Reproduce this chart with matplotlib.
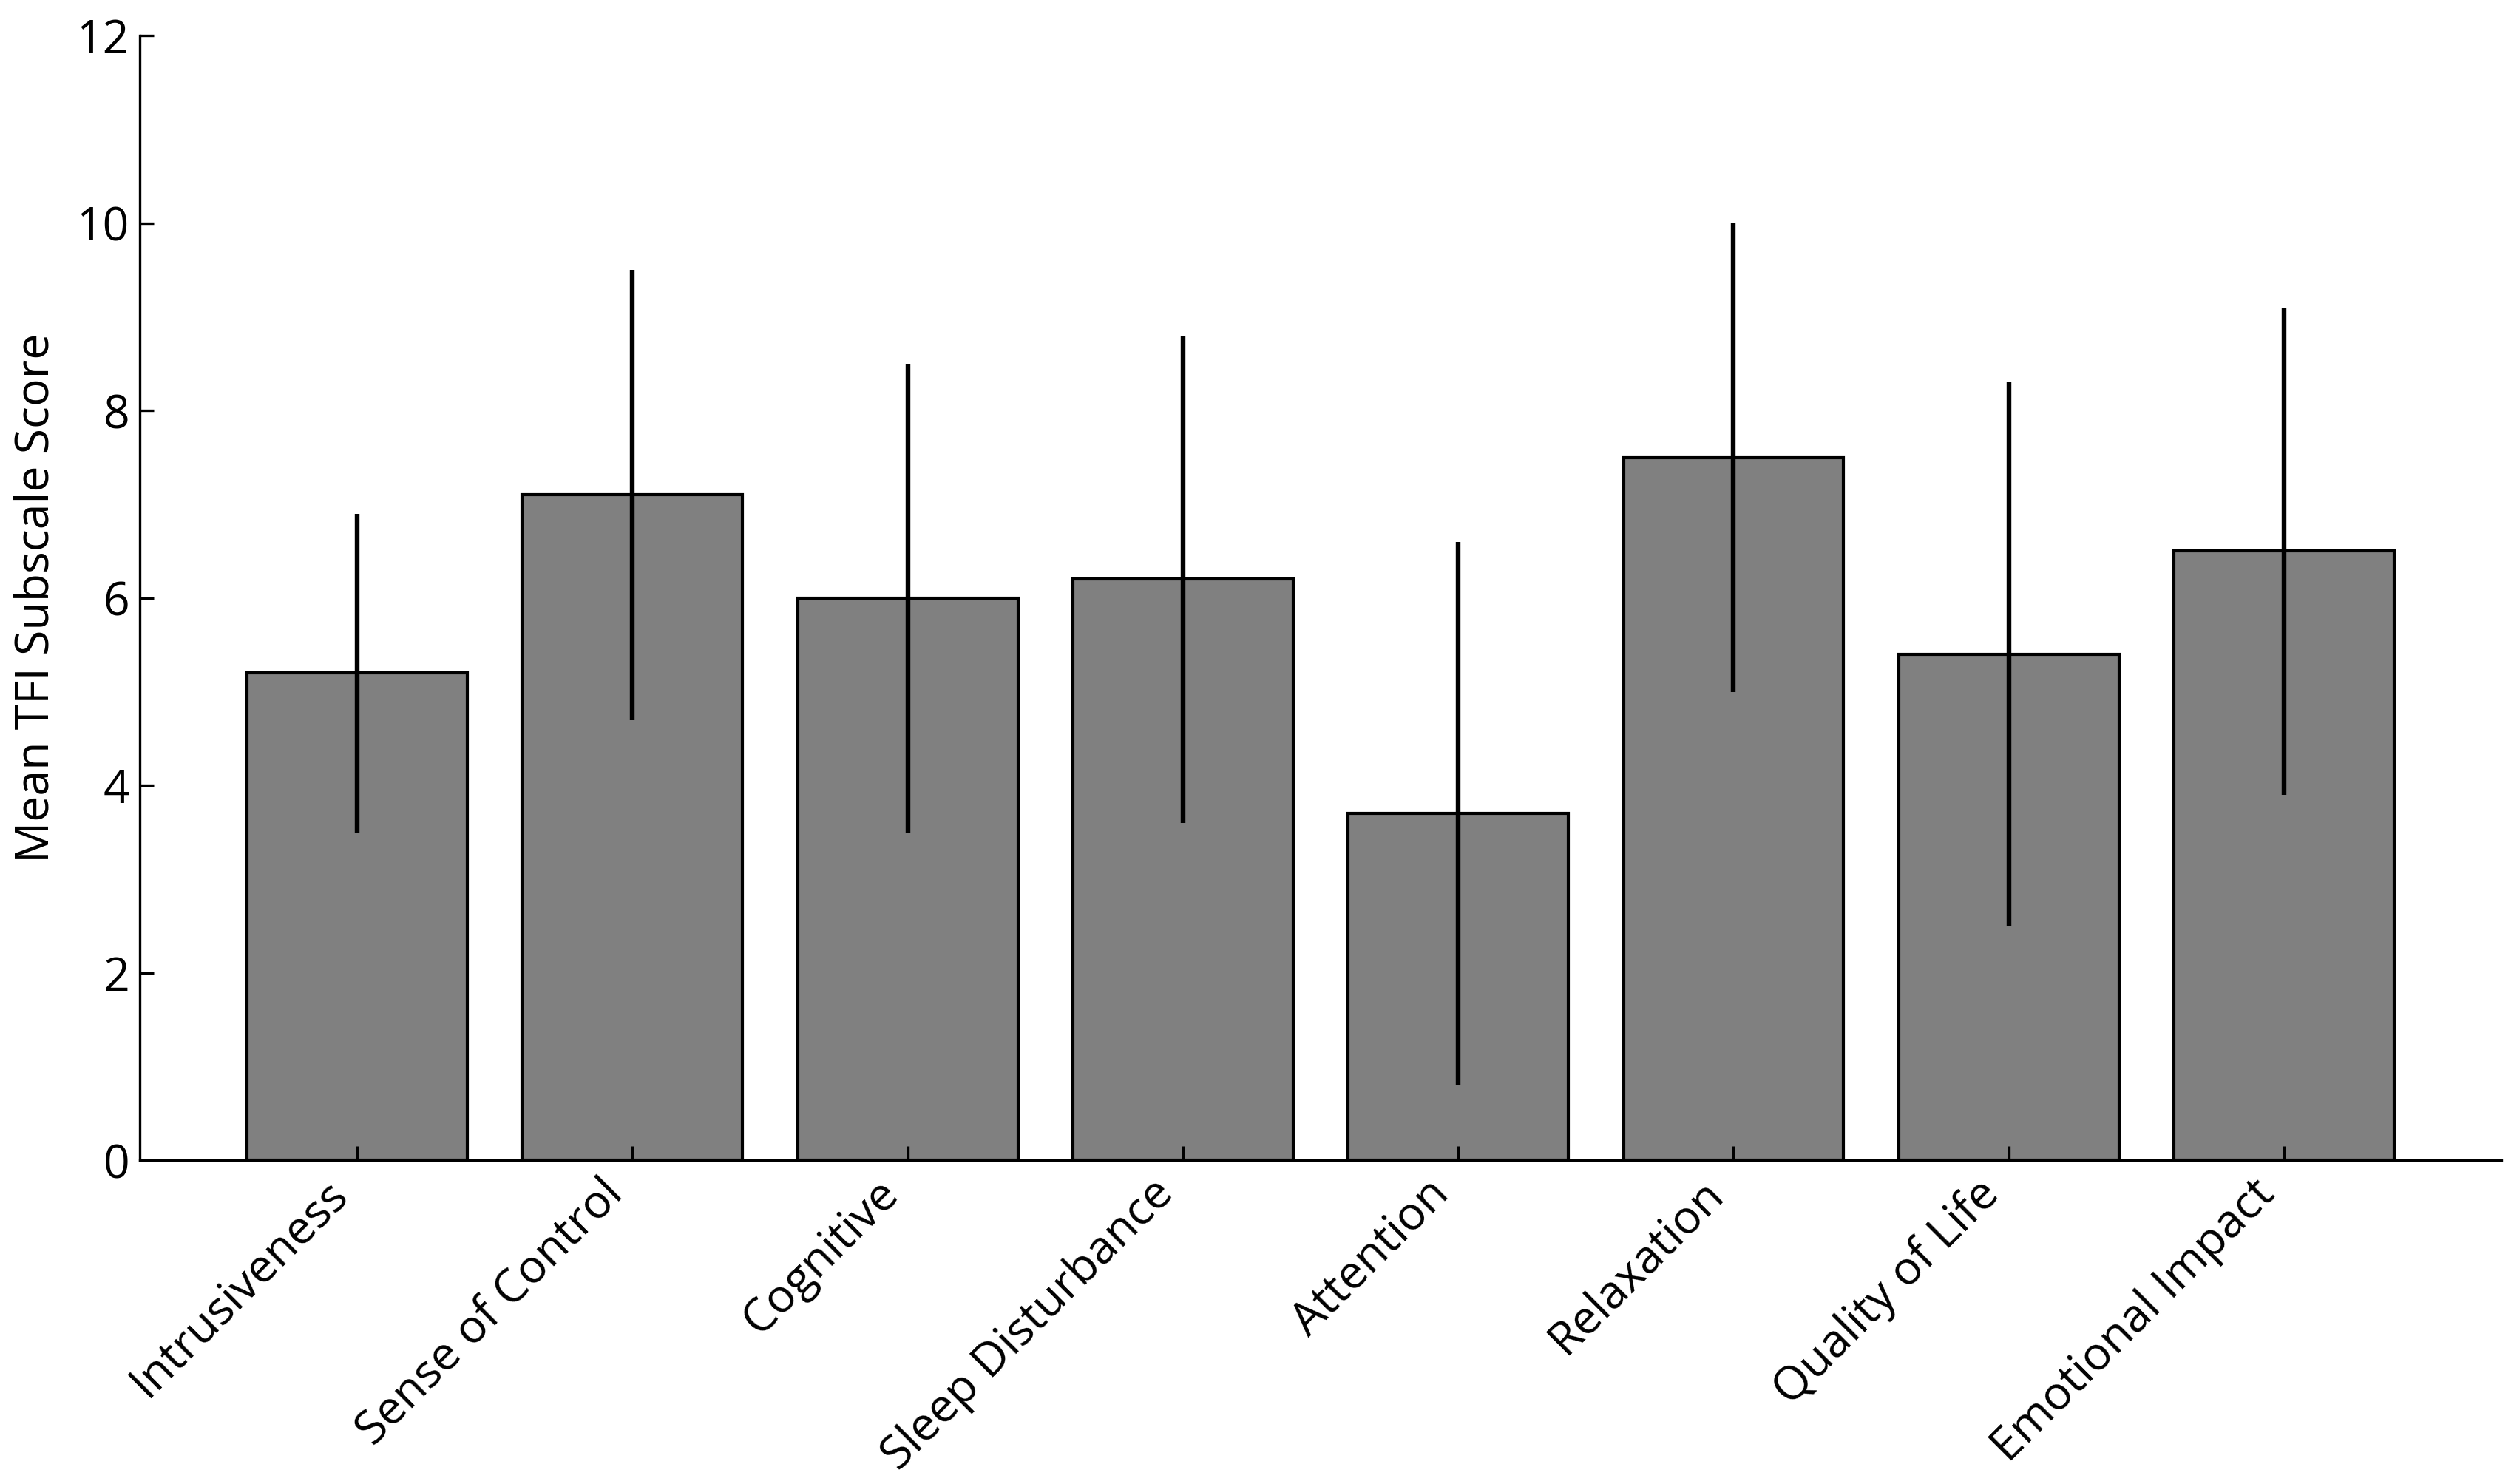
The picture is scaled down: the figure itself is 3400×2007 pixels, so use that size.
import numpy as np
import matplotlib.pyplot as plt

# TFI subscale means and error bar half-widths
subscales = ["Intrusiveness", "Sense of Control", "Cognitive", "Sleep Disturbance",
             "Attention", "Relaxation", "Quality of Life", "Emotional Impact"]
means = [5.2, 7.1, 6.0, 6.2, 3.7, 7.5, 5.4, 6.5]
errors = [1.7, 2.4, 2.5, 2.6, 2.9, 2.5, 2.9, 2.6]

plt.rcParams['font.family'] = ['Open Sans', 'DejaVu Sans']

fig, ax = plt.subplots(figsize=(17, 10.035), dpi=200)
x = np.arange(len(subscales))
ax.bar(x, means, width=0.8, color="gray", edgecolor="black", linewidth=1.5,
       yerr=errors, error_kw=dict(elinewidth=2.3, ecolor="black", capsize=0))

ax.set_ylim(0, 12)
ax.set_xticks(x)
ax.set_xticklabels(subscales, rotation=45, ha="right", fontsize=22.5)
ax.tick_params(axis="both", direction="in", length=7, width=1.2, labelsize=22.5, pad=5)
ax.set_ylabel("Mean TFI Subscale Score", fontsize=22.5, labelpad=8)
for side in ["top", "right"]:
    ax.spines[side].set_visible(False)
for side in ["left", "bottom"]:
    ax.spines[side].set_linewidth(1.2)

plt.subplots_adjust(left=0.0556, right=0.995, top=0.976, bottom=0.218)
plt.savefig("out.png", dpi=200)
